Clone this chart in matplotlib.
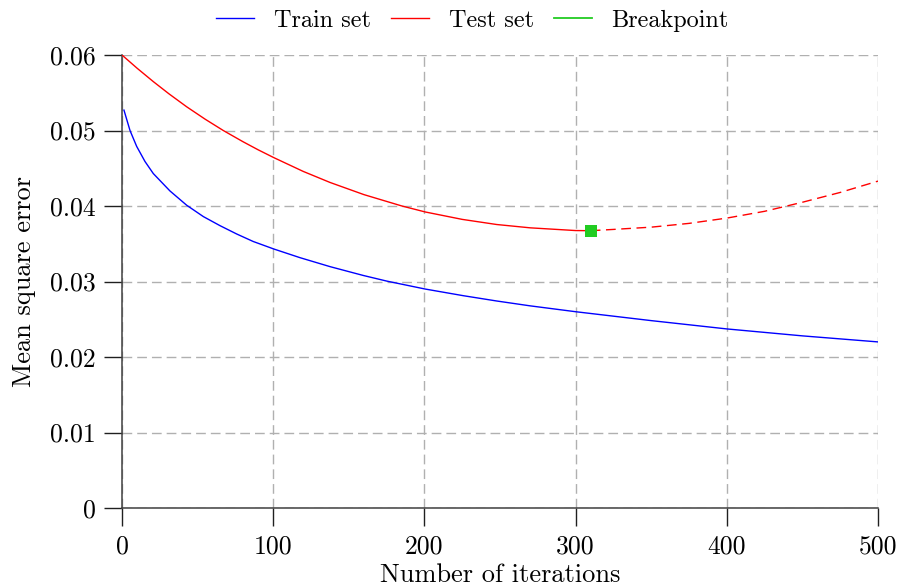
import matplotlib
matplotlib.use("Agg")
import matplotlib.pyplot as plt
from matplotlib.lines import Line2D

# ---- data ----
train_x = [1.3, 5.3, 9.7, 15.2, 20.7, 31.7, 42.8, 53.8, 64.8, 75.8, 86.8, 100.5, 117.7,
           137.6, 159.6, 175, 200.6, 225.8, 247.8, 269.8, 300, 350, 400, 450, 500]
train_y = [0.0527, 0.0500, 0.0479, 0.0459, 0.0443, 0.0420, 0.0401, 0.0386, 0.0374, 0.0363,
           0.0353, 0.0343, 0.03316, 0.03197, 0.03080, 0.03006, 0.02900, 0.02812, 0.02742,
           0.02678, 0.02600, 0.02482, 0.02372, 0.02280, 0.02200]

test_x = [0, 10, 20.7, 31, 42.8, 55, 67, 80, 90, 100.5, 119.9, 137.6, 160, 185, 200.6,
          225, 247.8, 270, 300, 310]
test_y = [0.0600, 0.05825, 0.05648, 0.05487, 0.05314, 0.05150, 0.0500, 0.04852, 0.04745,
          0.04640, 0.04458, 0.04312, 0.04151, 0.04001, 0.03921, 0.03823, 0.03755, 0.03711,
          0.03675, 0.03673]

test_after_x = [310, 325, 350, 375, 400, 425, 450, 475, 500]
test_after_y = [0.03673, 0.0369, 0.0372, 0.0377, 0.0384, 0.0393, 0.0405, 0.0418, 0.0433]

break_x = [310]
break_y = [0.03673]

x_ticks = [0, 100, 200, 300, 400, 500]
y_ticks = [0, 0.01, 0.02, 0.03, 0.04, 0.05, 0.06]
y_tick_labels = ["0", "0.01", "0.02", "0.03", "0.04", "0.05", "0.06"]

labels = ["Train set", "Test set", "Breakpoint"]

# ---- style ----
plt.rcParams["font.family"] = "serif"
plt.rcParams["font.serif"] = ["cmr10", "DejaVu Serif"]
plt.rcParams["mathtext.fontset"] = "cm"
plt.rcParams["axes.formatter.use_mathtext"] = True
plt.rcParams["lines.scale_dashes"] = False

FS_TICK = 18.5
FS_LABEL = 19
FS_LEG = 17.5

fig = plt.figure(figsize=(9.01, 5.86), dpi=100)
ax = fig.add_axes([0.1354, 0.1331, 0.9745 - 0.1354, 0.9061 - 0.1331])

blue = "#0000ff"
red = "#ff0000"
green = "#22cc22"

ax.plot(train_x, train_y, color=blue, lw=1.0, zorder=3)
ax.plot(test_x, test_y, color=red, lw=1.0, zorder=3)
ax.plot(test_after_x, test_after_y, color=red, lw=1.0, dashes=(7.0, 4.0), zorder=3)
ax.plot(break_x, break_y, linestyle="none", marker="s", markersize=8,
        color=green, markeredgewidth=0, zorder=4)

ax.set_xlim(0, 500)
ax.set_ylim(0, 0.06)
ax.set_xticks(x_ticks)
ax.set_xticklabels([str(v) for v in x_ticks])
ax.set_yticks(y_ticks)
ax.set_yticklabels(y_tick_labels)

ax.grid(True, color="#b0b0b0", lw=1.0, dashes=(7.0, 3.6))
ax.set_axisbelow(True)

for s in ["top", "right"]:
    ax.spines[s].set_visible(False)
for s in ["left", "bottom"]:
    ax.spines[s].set_color("#404040")
    ax.spines[s].set_linewidth(1.1)

ax.tick_params(axis="both", direction="out", length=13, width=1.0, color="#202020",
               labelsize=FS_TICK, pad=6)

ax.set_xlabel("Number of iterations", fontsize=FS_LABEL, labelpad=4)
ax.set_ylabel("Mean square error", fontsize=FS_LABEL, labelpad=10)

handles = [Line2D([], [], color=blue, lw=1.0),
           Line2D([], [], color=red, lw=1.0),
           Line2D([], [], color=green, lw=1.3)]
fig.legend(handles, labels, loc="center", bbox_to_anchor=(0.5244, 0.965), ncol=3,
           frameon=False, fontsize=FS_LEG, handlelength=1.56, handletextpad=0.82,
           columnspacing=0.82)

fig.savefig("out.png", dpi=100)
